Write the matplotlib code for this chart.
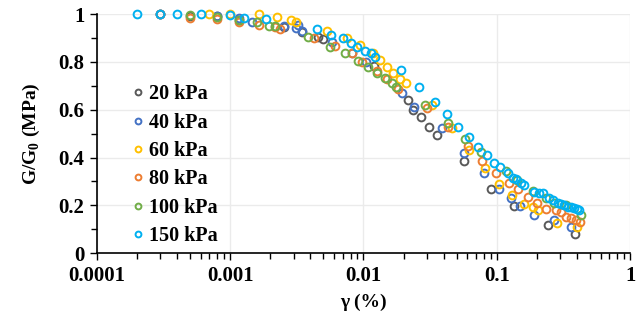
import matplotlib
matplotlib.use("Agg")
import matplotlib.pyplot as plt
from matplotlib.ticker import LogLocator, FixedLocator, MultipleLocator, NullFormatter

plt.rcParams['font.family'] = ['Liberation Serif', 'DejaVu Serif']
plt.rcParams['font.weight'] = 'bold'

labels = ["20 kPa", "40 kPa", "60 kPa", "80 kPa", "100 kPa", "150 kPa"]
colors = ["#595959", "#4472C4", "#FFC000", "#ED7D31", "#70AD47", "#00B0F0"]

x20 = [0.0003, 0.0005, 0.0008, 0.00117, 0.00255, 0.00348, 0.00459, 0.005, 0.0119, 0.0214,
       0.0234, 0.0268, 0.0308, 0.0354, 0.0565, 0.0902, 0.134, 0.242, 0.386]
y20 = [1.0, 0.99, 0.99, 0.975, 0.946, 0.925, 0.904, 0.895, 0.782, 0.640,
       0.598, 0.569, 0.527, 0.494, 0.385, 0.268, 0.197, 0.117, 0.079]

x40 = [0.0003, 0.0008, 0.00117, 0.00146, 0.00255, 0.00313, 0.00324, 0.00348, 0.00584, 0.00827,
       0.0105, 0.0193, 0.0238, 0.0386, 0.0565, 0.0798, 0.1035, 0.127, 0.149, 0.19, 0.268, 0.36]
y40 = [1.0, 0.99, 0.983, 0.967, 0.95, 0.941, 0.954, 0.929, 0.883, 0.837,
       0.799, 0.669, 0.611, 0.523, 0.418, 0.335, 0.268, 0.23, 0.197, 0.159, 0.138, 0.109]

x60 = [0.0007, 0.001, 0.00165, 0.00226, 0.00288, 0.00313, 0.00536, 0.00758, 0.0095, 0.0117,
       0.0134, 0.0151, 0.0168, 0.0187, 0.0207, 0.0325, 0.0459, 0.0616, 0.0812, 0.1035,
       0.13, 0.16, 0.187, 0.203, 0.283, 0.40]
y60 = [1.0, 1.0, 1.0, 0.987, 0.975, 0.967, 0.929, 0.90, 0.87, 0.837,
       0.808, 0.778, 0.753, 0.728, 0.711, 0.619, 0.523, 0.431, 0.356, 0.289,
       0.243, 0.205, 0.192, 0.18, 0.126, 0.109]

x80 = [0.0003, 0.0005, 0.0008, 0.00117, 0.00165, 0.00218, 0.00238, 0.00428, 0.00615, 0.00827,
       0.00983, 0.0127, 0.0149, 0.0183, 0.0298, 0.0428, 0.0605, 0.0771, 0.0983, 0.123,
       0.144, 0.171, 0.20, 0.234, 0.278, 0.303, 0.33, 0.36, 0.393, 0.421]
y80 = [1.0, 0.983, 0.979, 0.967, 0.954, 0.946, 0.937, 0.90, 0.866, 0.837,
       0.799, 0.762, 0.728, 0.686, 0.607, 0.527, 0.448, 0.385, 0.335, 0.293,
       0.268, 0.234, 0.209, 0.184, 0.18, 0.172, 0.151, 0.146, 0.138, 0.13]

x100 = [0.0005, 0.0008, 0.00117, 0.0016, 0.00196, 0.00218, 0.00386, 0.00565, 0.00732, 0.00917,
        0.0109, 0.0127, 0.0146, 0.0165, 0.0174, 0.0288, 0.0428, 0.0574, 0.0758, 0.117,
        0.141, 0.187, 0.234, 0.268, 0.33, 0.428]
y100 = [0.996, 0.987, 0.975, 0.967, 0.95, 0.95, 0.904, 0.862, 0.837, 0.803,
        0.778, 0.753, 0.732, 0.711, 0.695, 0.619, 0.544, 0.477, 0.423, 0.343,
        0.305, 0.259, 0.23, 0.209, 0.20, 0.159]

x150 = [0.0002, 0.0003, 0.0004, 0.0006, 0.001, 0.00127, 0.00187, 0.00451, 0.00574, 0.00707,
        0.008, 0.009, 0.0102, 0.0113, 0.0123, 0.019, 0.0259, 0.0342, 0.0421, 0.0509,
        0.0616, 0.0719, 0.0841, 0.0949, 0.1054, 0.121, 0.132, 0.139, 0.151, 0.16,
        0.19, 0.207, 0.222, 0.246, 0.264, 0.288, 0.303, 0.319, 0.342, 0.36,
        0.379, 0.40, 0.414]
y150 = [1.0, 1.0, 1.0, 1.0, 0.996, 0.983, 0.979, 0.937, 0.912, 0.90,
        0.879, 0.862, 0.845, 0.837, 0.82, 0.766, 0.695, 0.632, 0.582, 0.527,
        0.485, 0.444, 0.41, 0.377, 0.36, 0.335, 0.314, 0.31, 0.293, 0.285,
        0.255, 0.251, 0.251, 0.23, 0.222, 0.209, 0.205, 0.201, 0.192, 0.192,
        0.188, 0.184, 0.18]

series_x = [x20, x40, x60, x80, x100, x150]
series_y = [y20, y40, y60, y80, y100, y150]

x_ticks = [0.0001, 0.001, 0.01, 0.1, 1]
x_ticklabels = ["0.0001", "0.001", "0.01", "0.1", "1"]
y_ticks = [0, 0.2, 0.4, 0.6, 0.8, 1]
y_ticklabels = ["0", "0.2", "0.4", "0.6", "0.8", "1"]

fig = plt.figure(figsize=(6.41, 3.20), dpi=100)
ax = fig.add_axes([0.151, 0.209, 0.832, 0.747])

for xs, ys, c, lab in zip(series_x, series_y, colors, labels):
    ax.plot(xs, ys, linestyle='none', marker='o', markersize=5.6,
            markerfacecolor='none', markeredgecolor=c, markeredgewidth=1.4,
            label=lab, clip_on=False, zorder=3)

ax.set_xscale('log')
ax.set_xlim(0.0001, 1)
ax.set_ylim(0, 1)
ax.xaxis.set_major_locator(FixedLocator(x_ticks))
ax.set_xticklabels(x_ticklabels)
ax.xaxis.set_minor_locator(LogLocator(base=10, subs=range(2, 10), numticks=20))
ax.xaxis.set_minor_formatter(NullFormatter())
ax.yaxis.set_major_locator(FixedLocator(y_ticks))
ax.set_yticklabels(y_ticklabels)
ax.yaxis.set_minor_locator(MultipleLocator(0.1))

ax.tick_params(axis='both', which='major', direction='out', length=5, width=1,
               labelsize=15, pad=4)
ax.tick_params(axis='both', which='minor', direction='out', length=4, width=1)
for lab in ax.get_xticklabels() + ax.get_yticklabels():
    lab.set_fontweight('bold')

ax.grid(True, which='major', color='#EBEBEB', linewidth=1, zorder=0)
ax.set_axisbelow(True)
for s in ['top', 'right']:
    ax.spines[s].set_visible(False)
ax.spines['left'].set_linewidth(1.2)
ax.spines['bottom'].set_linewidth(1.2)

ax.set_xlabel("γ (%)", fontsize=14, fontweight='bold', labelpad=6)
ax.set_ylabel("G/G$_\\mathregular{0}$ (MPa)", fontsize=14, fontweight='bold', labelpad=12)

leg = ax.legend(loc='upper left', bbox_to_anchor=(0.066, 0.707), frameon=False,
                prop={'size': 14.5, 'weight': 'bold'}, markerscale=0.75,
                handlelength=0.6, handletextpad=0.25, labelspacing=0.42,
                borderpad=0, borderaxespad=0)

fig.savefig("out.png", dpi=100)
